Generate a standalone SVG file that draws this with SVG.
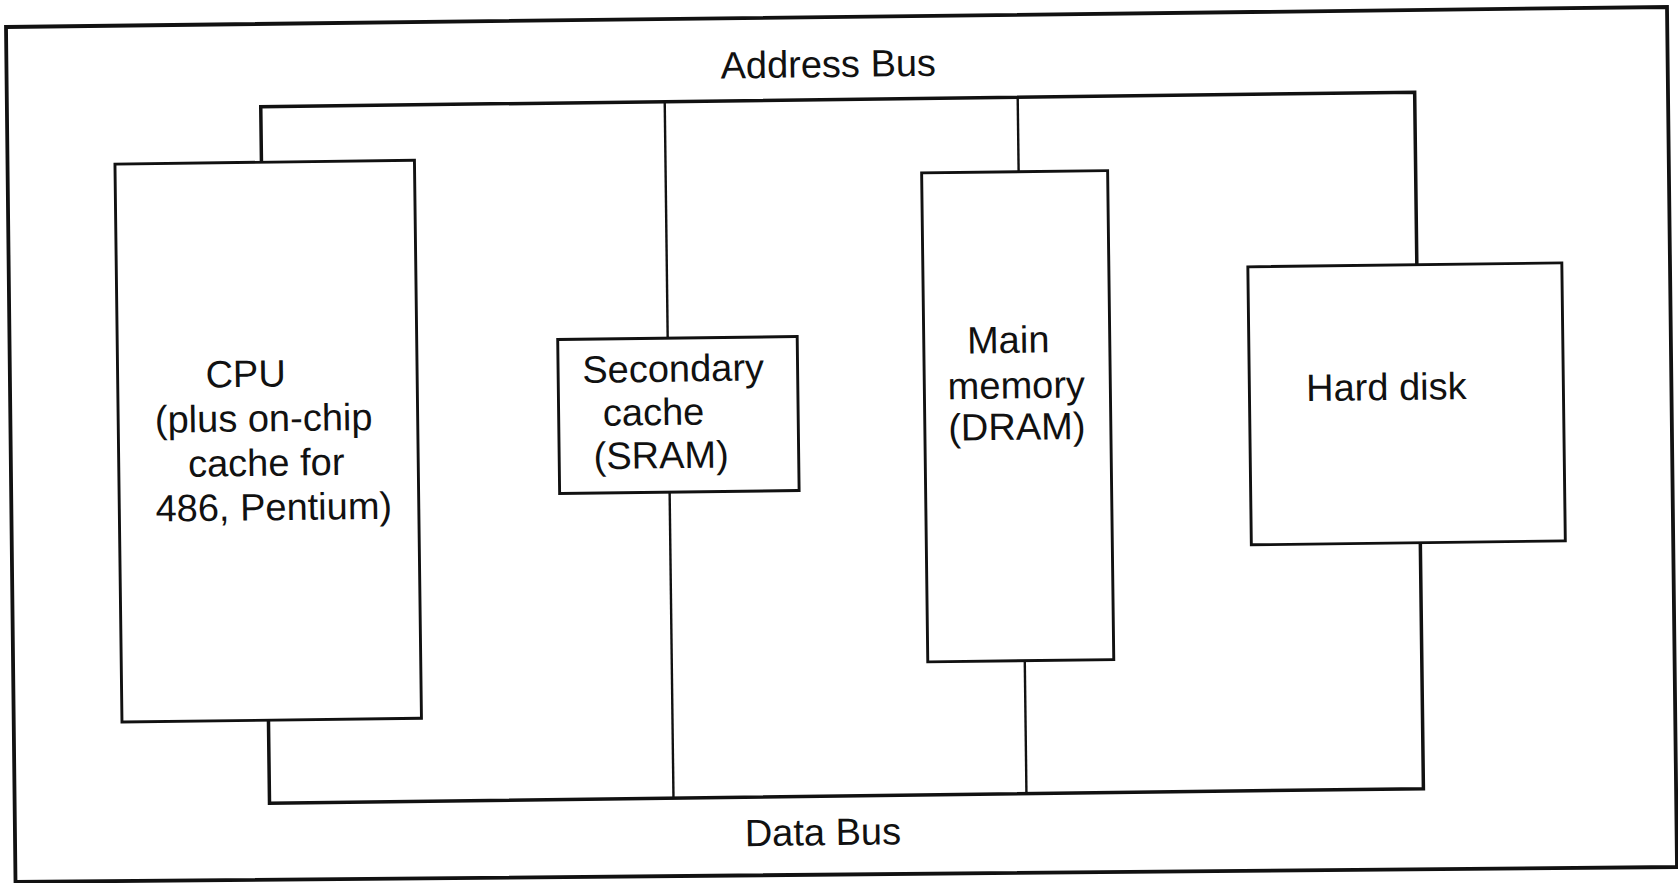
<svg xmlns="http://www.w3.org/2000/svg" width="1678" height="883" viewBox="0 0 1678 883">
  <style>
    .frame { fill: none; stroke: #111; stroke-width: 3.8; stroke-linejoin: miter; }
    .box { fill: #fff; stroke: #111; stroke-width: 2.9; }
    .bus { fill: none; stroke: #111; stroke-width: 3.5; stroke-linejoin: miter; }
    .tap { fill: none; stroke: #111; stroke-width: 2.4; }
    .label { font-family: "Liberation Sans", Arial, sans-serif; font-size: 38px; fill: #111; text-anchor: middle; }
  </style>
  <rect x="0" y="0" width="1678" height="883" fill="#fff"/>
  <!-- outer border, slightly skewed on the page -->
  <polygon class="frame" points="6,27 1667,7 1677,867 15.5,882"/>
  <!-- contents sit slightly tilted -->
  <g transform="rotate(-0.72 839 441)">
    <g id="connectors">
      <!-- address bus with its taps -->
      <path class="bus" d="M265 155 V99.5 H1419 V272"/>
      <path class="tap" d="M669 99.5 V336"/>
      <path class="tap" d="M1022 99.5 V174"/>
      <text class="label" x="833" y="77">Address Bus</text>
      <!-- data bus with its taps -->
      <path class="bus" d="M265 713 V796 H1419 V550"/>
      <path class="tap" d="M669 490 V796"/>
      <path class="tap" d="M1022 663 V796"/>
      <text class="label" x="818" y="845">Data Bus</text>
    </g>

    <g id="cpu">
      <rect class="box" x="118.5" y="155" width="299.5" height="558"/>
      <text class="label" x="246.5" y="379.5">CPU</text>
      <text class="label" x="264" y="424">(plus on-chip</text>
      <text class="label" x="266" y="468.5">cache for</text>
      <text class="label" x="273" y="513">486, Pentium)</text>
    </g>

    <g id="secondary-cache">
      <rect class="box" x="559" y="336" width="239.5" height="154"/>
      <text class="label" x="674" y="379.5">Secondary</text>
      <text class="label" x="654" y="422.8">cache</text>
      <text class="label" x="661" y="466">(SRAM)</text>
    </g>

    <g id="main-memory">
      <rect class="box" x="925" y="174" width="186" height="489"/>
      <text class="label" x="1009.5" y="355">Main</text>
      <text class="label" x="1017" y="400.5">memory</text>
      <text class="label" x="1017" y="442">(DRAM)</text>
    </g>

    <g id="hard-disk">
      <rect class="box" x="1250" y="272" width="314" height="278"/>
      <text class="label" x="1387" y="407">Hard disk</text>
    </g>
  </g>
</svg>
